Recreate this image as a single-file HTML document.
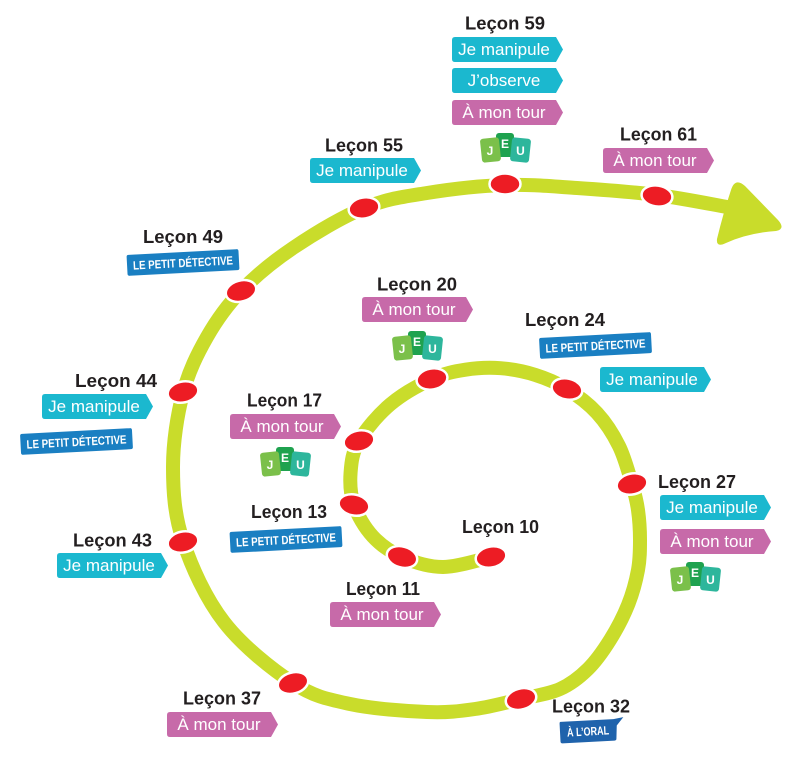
<!DOCTYPE html>
<html><head><meta charset="utf-8"><style>
html,body{margin:0;padding:0;background:#fff;}
svg{display:block;}
text{font-family:"Liberation Sans",Arial,sans-serif;}
.lb{font-weight:bold;font-size:18px;fill:#231f20;}
.tg{font-size:17px;fill:#fff;}
.pd{font-weight:bold;font-size:12px;fill:#fff;}
.jl{font-weight:bold;font-size:12px;fill:#fff;}
</style></head><body>
<svg width="810" height="782" viewBox="0 0 810 782" xmlns="http://www.w3.org/2000/svg">
<!-- spiral -->
<path d="M491,557 C483,558.7 457.8,567 443,567 C428.2,567 413.7,562.1 402,557 C390.3,551.9 380.6,544.9 372.6,536.2 C364.6,527.5 357.7,515.6 354,505 C350.3,494.4 349.8,483.1 350.6,472.4 C351.4,461.7 352.35,452.4 359,441 C365.65,429.6 378.3,414.5 390.5,404.2 C402.7,393.9 419.5,384.75 432,379 C444.5,373.25 454.1,371.5 465.5,369.7 C476.9,367.9 489,367.3 500.6,368.2 C512.2,369.1 524.2,371.4 535.3,374.9 C546.4,378.4 556.7,382.65 567,389 C577.3,395.35 588.3,403.5 597,413 C605.7,422.5 613.2,434.2 619,446 C624.8,457.8 628.8,473.3 632,484 C635.2,494.7 636.7,500.7 638,510 C639.3,519.3 640,530 640,540 C640,550 640,559.2 638,570 C636,580.8 632.7,593.3 628,605 C623.3,616.7 616.7,629.3 610,640 C603.3,650.7 596.3,660.8 588,669 C579.7,677.2 571.2,684 560,689 C548.8,694 535.2,695.7 521,699 C506.8,702.3 490.7,706.8 475,709 C459.3,711.2 447.8,712.8 427,712 C406.2,711.2 372.3,708.8 350,704 C327.7,699.2 314,696.7 293,683 C272,669.3 242.3,645.7 224,622 C205.7,598.3 191.5,566.8 183,541 C174.5,515.2 173,491.7 173,467 C173,442.3 177.3,414.7 183,393 C188.7,371.3 197.3,354 207,337 C216.7,320 226.7,305.8 241,291 C255.3,276.2 272.5,261.8 293,248 C313.5,234.2 341.7,217.2 364,208 C386.3,198.8 403.5,196.8 427,193 C450.5,189.2 480,185.8 505,185 C530.3,184.2 551.7,186.3 577,188 C602,189.7 632,191.8 657,195 C682,198.2 715.3,205 727,207" fill="none" stroke="#c9dc2b" stroke-width="14" stroke-linecap="round"/>
<!-- arrowhead -->
<path d="M731,190 Q735,177 745,186 L778,220 Q786,229 776,231 Q748,233 726,243 Q716,248 717,239 Q723,214 731,190 Z" fill="#c9dc2b"/>

<!-- dots -->
<g fill="#ed1c24" stroke="#fff" stroke-width="2.5">
<ellipse cx="491" cy="557" rx="15.5" ry="10.5" transform="rotate(-12 491 557)"/>
<ellipse cx="402" cy="557" rx="15.5" ry="10.5" transform="rotate(15 402 557)"/>
<ellipse cx="354" cy="505" rx="15.5" ry="10.5" transform="rotate(12 354 505)"/>
<ellipse cx="359" cy="441" rx="15.5" ry="10.5" transform="rotate(-12 359 441)"/>
<ellipse cx="432" cy="379" rx="15.5" ry="10.5" transform="rotate(-10 432 379)"/>
<ellipse cx="567" cy="389" rx="15.5" ry="10.5" transform="rotate(12 567 389)"/>
<ellipse cx="632" cy="484" rx="15.5" ry="10.5" transform="rotate(-12 632 484)"/>
<ellipse cx="521" cy="699" rx="15.5" ry="10.5" transform="rotate(-15 521 699)"/>
<ellipse cx="293" cy="683" rx="15.5" ry="10.5" transform="rotate(-15 293 683)"/>
<ellipse cx="183" cy="542" rx="15.5" ry="10.5" transform="rotate(-12 183 542)"/>
<ellipse cx="183" cy="392" rx="15.5" ry="10.5" transform="rotate(-12 183 392)"/>
<ellipse cx="241" cy="291" rx="15.5" ry="10.5" transform="rotate(-15 241 291)"/>
<ellipse cx="364" cy="208" rx="15.5" ry="10.5" transform="rotate(-10 364 208)"/>
<ellipse cx="505" cy="184" rx="15.5" ry="10.5"/>
<ellipse cx="657" cy="196" rx="15.5" ry="10.5" transform="rotate(8 657 196)"/>
</g>

<!-- labels -->
<text class="lb" x="465" y="29.5" textLength="80" lengthAdjust="spacingAndGlyphs">Leçon 59</text>
<text class="lb" x="620" y="140.5" textLength="77" lengthAdjust="spacingAndGlyphs">Leçon 61</text>
<text class="lb" x="325" y="151.5" textLength="78" lengthAdjust="spacingAndGlyphs">Leçon 55</text>
<text class="lb" x="143" y="243" textLength="80" lengthAdjust="spacingAndGlyphs">Leçon 49</text>
<text class="lb" x="75" y="387" textLength="82" lengthAdjust="spacingAndGlyphs">Leçon 44</text>
<text class="lb" x="73" y="546.5" textLength="79" lengthAdjust="spacingAndGlyphs">Leçon 43</text>
<text class="lb" x="183" y="704.5" textLength="78" lengthAdjust="spacingAndGlyphs">Leçon 37</text>
<text class="lb" x="552" y="712.5" textLength="78" lengthAdjust="spacingAndGlyphs">Leçon 32</text>
<text class="lb" x="377" y="290.5" textLength="80" lengthAdjust="spacingAndGlyphs">Leçon 20</text>
<text class="lb" x="247" y="406.5" textLength="75" lengthAdjust="spacingAndGlyphs">Leçon 17</text>
<text class="lb" x="251" y="518" textLength="76" lengthAdjust="spacingAndGlyphs">Leçon 13</text>
<text class="lb" x="462" y="533" textLength="77" lengthAdjust="spacingAndGlyphs">Leçon 10</text>
<text class="lb" x="346" y="595" textLength="74" lengthAdjust="spacingAndGlyphs">Leçon 11</text>
<text class="lb" x="525" y="326" textLength="80" lengthAdjust="spacingAndGlyphs">Leçon 24</text>
<text class="lb" x="658" y="488" textLength="78" lengthAdjust="spacingAndGlyphs">Leçon 27</text>

<!-- tags -->
<g transform="translate(452,37)"><path d="M3,0H104L111,12.5L104,25H3Q0,25 0,22V3Q0,0 3,0Z" fill="#1bb8cf"/><text class="tg" x="52" y="18" text-anchor="middle">Je manipule</text></g>
<g transform="translate(452,68)"><path d="M3,0H104L111,12.5L104,25H3Q0,25 0,22V3Q0,0 3,0Z" fill="#1bb8cf"/><text class="tg" x="52" y="18" text-anchor="middle">J’observe</text></g>
<g transform="translate(452,100)"><path d="M3,0H104L111,12.5L104,25H3Q0,25 0,22V3Q0,0 3,0Z" fill="#c76aa9"/><text class="tg" x="52" y="18" text-anchor="middle">À mon tour</text></g>
<g transform="translate(603,148)"><path d="M3,0H104L111,12.5L104,25H3Q0,25 0,22V3Q0,0 3,0Z" fill="#c76aa9"/><text class="tg" x="52" y="18" text-anchor="middle">À mon tour</text></g>
<g transform="translate(310,158)"><path d="M3,0H104L111,12.5L104,25H3Q0,25 0,22V3Q0,0 3,0Z" fill="#1bb8cf"/><text class="tg" x="52" y="18" text-anchor="middle">Je manipule</text></g>
<g transform="translate(42,394)"><path d="M3,0H104L111,12.5L104,25H3Q0,25 0,22V3Q0,0 3,0Z" fill="#1bb8cf"/><text class="tg" x="52" y="18" text-anchor="middle">Je manipule</text></g>
<g transform="translate(57,553)"><path d="M3,0H104L111,12.5L104,25H3Q0,25 0,22V3Q0,0 3,0Z" fill="#1bb8cf"/><text class="tg" x="52" y="18" text-anchor="middle">Je manipule</text></g>
<g transform="translate(167,712)"><path d="M3,0H104L111,12.5L104,25H3Q0,25 0,22V3Q0,0 3,0Z" fill="#c76aa9"/><text class="tg" x="52" y="18" text-anchor="middle">À mon tour</text></g>
<g transform="translate(362,297)"><path d="M3,0H104L111,12.5L104,25H3Q0,25 0,22V3Q0,0 3,0Z" fill="#c76aa9"/><text class="tg" x="52" y="18" text-anchor="middle">À mon tour</text></g>
<g transform="translate(230,414)"><path d="M3,0H104L111,12.5L104,25H3Q0,25 0,22V3Q0,0 3,0Z" fill="#c76aa9"/><text class="tg" x="52" y="18" text-anchor="middle">À mon tour</text></g>
<g transform="translate(330,602)"><path d="M3,0H104L111,12.5L104,25H3Q0,25 0,22V3Q0,0 3,0Z" fill="#c76aa9"/><text class="tg" x="52" y="18" text-anchor="middle">À mon tour</text></g>
<g transform="translate(600,367)"><path d="M3,0H104L111,12.5L104,25H3Q0,25 0,22V3Q0,0 3,0Z" fill="#1bb8cf"/><text class="tg" x="52" y="18" text-anchor="middle">Je manipule</text></g>
<g transform="translate(660,495)"><path d="M3,0H104L111,12.5L104,25H3Q0,25 0,22V3Q0,0 3,0Z" fill="#1bb8cf"/><text class="tg" x="52" y="18" text-anchor="middle">Je manipule</text></g>
<g transform="translate(660,529)"><path d="M3,0H104L111,12.5L104,25H3Q0,25 0,22V3Q0,0 3,0Z" fill="#c76aa9"/><text class="tg" x="52" y="18" text-anchor="middle">À mon tour</text></g>

<!-- le petit détective badges -->
<g transform="translate(183,262.5) rotate(-3)"><rect x="-56" y="-10.5" width="112" height="21" rx="2" fill="#1a7fc2"/><text class="pd" x="0" y="4.5" text-anchor="middle" textLength="100" lengthAdjust="spacingAndGlyphs">LE PETIT DÉTECTIVE</text></g>
<g transform="translate(76.5,441.5) rotate(-3)"><rect x="-56" y="-10.5" width="112" height="21" rx="2" fill="#1a7fc2"/><text class="pd" x="0" y="4.5" text-anchor="middle" textLength="100" lengthAdjust="spacingAndGlyphs">LE PETIT DÉTECTIVE</text></g>
<g transform="translate(286,539.5) rotate(-3)"><rect x="-56" y="-10.5" width="112" height="21" rx="2" fill="#1a7fc2"/><text class="pd" x="0" y="4.5" text-anchor="middle" textLength="100" lengthAdjust="spacingAndGlyphs">LE PETIT DÉTECTIVE</text></g>
<g transform="translate(595.5,345.5) rotate(-3)"><rect x="-56" y="-10.5" width="112" height="21" rx="2" fill="#1a7fc2"/><text class="pd" x="0" y="4.5" text-anchor="middle" textLength="100" lengthAdjust="spacingAndGlyphs">LE PETIT DÉTECTIVE</text></g>

<!-- à l'oral badge -->
<g transform="translate(588,731) rotate(-3)">
<path d="M-27,-10.5 H26 L36,-12 L29,-4 L28,9 Q28,11 26,11 H-26 Q-28,11 -28,9 V-8.5 Q-28,-10.5 -27,-10.5 Z" fill="#1f63ac"/>
<text class="pd" x="0" y="4.5" text-anchor="middle" textLength="42" lengthAdjust="spacingAndGlyphs">À L’ORAL</text>
</g>

<!-- JEU icons -->
<g transform="translate(480,133)">
<rect x="16" y="0" width="18" height="24" rx="3" fill="#1fa24f"/>
<rect x="1" y="5" width="19" height="24" rx="3" fill="#7bc04a" transform="rotate(-6 10 17)"/>
<rect x="31" y="5" width="19" height="24" rx="3" fill="#2db69c" transform="rotate(6 40 17)"/>
<text class="jl" x="10" y="22" text-anchor="middle">J</text><text class="jl" x="25" y="15" text-anchor="middle">E</text><text class="jl" x="40.5" y="22" text-anchor="middle">U</text>
</g>
<g transform="translate(392,331)">
<rect x="16" y="0" width="18" height="24" rx="3" fill="#1fa24f"/>
<rect x="1" y="5" width="19" height="24" rx="3" fill="#7bc04a" transform="rotate(-6 10 17)"/>
<rect x="31" y="5" width="19" height="24" rx="3" fill="#2db69c" transform="rotate(6 40 17)"/>
<text class="jl" x="10" y="22" text-anchor="middle">J</text><text class="jl" x="25" y="15" text-anchor="middle">E</text><text class="jl" x="40.5" y="22" text-anchor="middle">U</text>
</g>
<g transform="translate(260,447)">
<rect x="16" y="0" width="18" height="24" rx="3" fill="#1fa24f"/>
<rect x="1" y="5" width="19" height="24" rx="3" fill="#7bc04a" transform="rotate(-6 10 17)"/>
<rect x="31" y="5" width="19" height="24" rx="3" fill="#2db69c" transform="rotate(6 40 17)"/>
<text class="jl" x="10" y="22" text-anchor="middle">J</text><text class="jl" x="25" y="15" text-anchor="middle">E</text><text class="jl" x="40.5" y="22" text-anchor="middle">U</text>
</g>
<g transform="translate(670,562)">
<rect x="16" y="0" width="18" height="24" rx="3" fill="#1fa24f"/>
<rect x="1" y="5" width="19" height="24" rx="3" fill="#7bc04a" transform="rotate(-6 10 17)"/>
<rect x="31" y="5" width="19" height="24" rx="3" fill="#2db69c" transform="rotate(6 40 17)"/>
<text class="jl" x="10" y="22" text-anchor="middle">J</text><text class="jl" x="25" y="15" text-anchor="middle">E</text><text class="jl" x="40.5" y="22" text-anchor="middle">U</text>
</g>
</svg>
</body></html>
